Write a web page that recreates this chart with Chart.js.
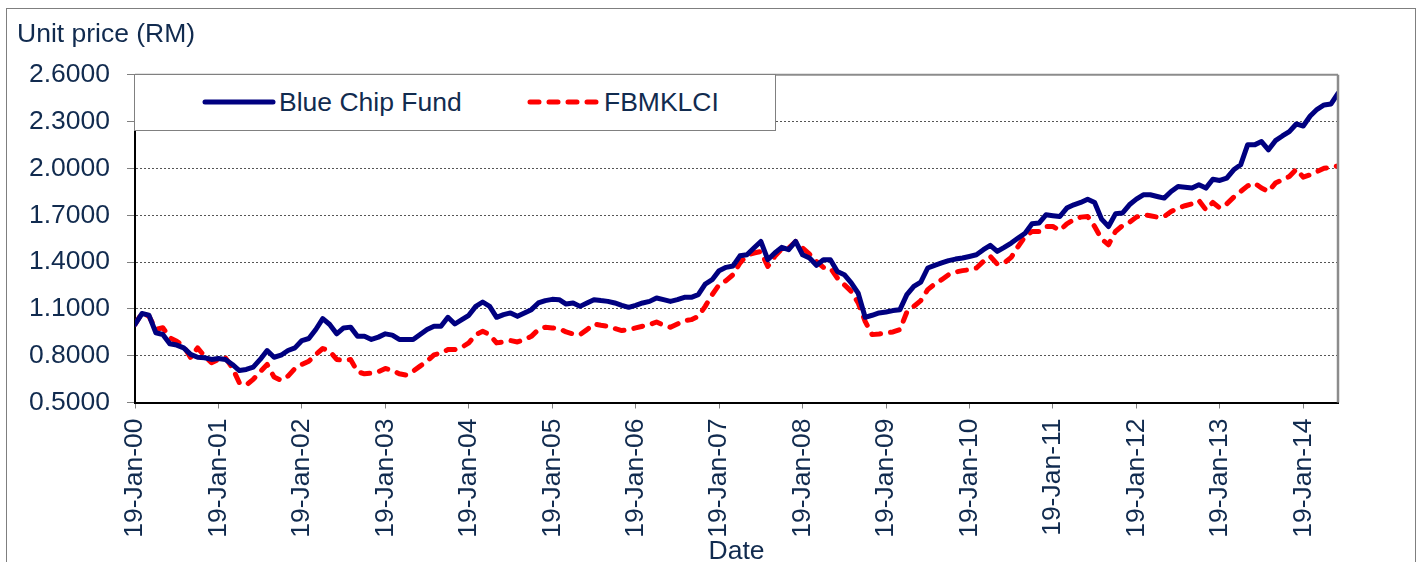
<!DOCTYPE html>
<html>
<head>
<meta charset="utf-8">
<script src="https://cdn.jsdelivr.net/npm/chart.js@4.4.0/dist/chart.umd.min.js"></script>
<style>
  body { margin: 0; background: #fff; font-family: "Liberation Sans", Arial, sans-serif; }
  #wrap { position: relative; width: 1424px; height: 562px; overflow: hidden; }
  #frame { position: absolute; left: 6px; top: 8px; width: 1410px; height: 600px; border: 1px solid #7f7f7f; box-sizing: border-box; }
  #myChart { position: absolute; left: 0; top: 0; }
  #legend { position: absolute; left: 134px; top: 74px; width: 642px; height: 57px; background: #fff; border: 1px solid #808080; box-sizing: border-box; z-index: 2; }
  #legend .item { position: absolute; top: 0; height: 55px; }
  #legend svg { position: absolute; top: 0; left: 0; }
  #legend span { position: absolute; top: 14px; font-size: 26.5px; line-height: 26px; color: #112b4f; white-space: nowrap; }
</style>
</head>
<body>
<div id="wrap">
  <div id="frame"></div>
  <canvas id="myChart" width="1424" height="562"></canvas>
  <div id="legend"></div>
</div>
<script>
// x ticks every January
const xTickLabels = ['19-Jan-00', '19-Jan-01', '19-Jan-02', '19-Jan-03', '19-Jan-04', '19-Jan-05', '19-Jan-06',
    '19-Jan-07', '19-Jan-08', '19-Jan-09', '19-Jan-10', '19-Jan-11', '19-Jan-12', '19-Jan-13', '19-Jan-14'];

// monthly unit prices, Jan 2000 .. Jun 2014
const blueChipFund = [
    1.000, 1.070, 1.060, 0.947, 0.936, 0.876, 0.868, 0.850, 0.808, 0.790, 0.787, 0.776,
    0.782, 0.776, 0.744, 0.705, 0.712, 0.727, 0.776, 0.833, 0.790, 0.803, 0.833, 0.850,
    0.897, 0.910, 0.968, 1.038, 1.000, 0.940, 0.978, 0.983, 0.925, 0.925, 0.904, 0.919,
    0.940, 0.932, 0.904, 0.904, 0.904, 0.936, 0.968, 0.989, 0.989, 1.046, 1.003, 1.031,
    1.059, 1.116, 1.144, 1.116, 1.046, 1.063, 1.074, 1.052, 1.074, 1.095, 1.138, 1.153,
    1.161, 1.159, 1.131, 1.138, 1.116, 1.138, 1.159, 1.153, 1.148, 1.138, 1.123, 1.110,
    1.123, 1.138, 1.148, 1.170, 1.159, 1.148, 1.159, 1.174, 1.174, 1.191, 1.259, 1.287,
    1.345, 1.366, 1.375, 1.440, 1.447, 1.490, 1.532, 1.415, 1.458, 1.494, 1.479, 1.532,
    1.447, 1.426, 1.379, 1.415, 1.415, 1.340, 1.319, 1.266, 1.200, 1.046, 1.059, 1.074,
    1.080, 1.089, 1.095, 1.191, 1.244, 1.272, 1.362, 1.379, 1.394, 1.409, 1.419, 1.426,
    1.436, 1.447, 1.479, 1.507, 1.468, 1.494, 1.522, 1.554, 1.585, 1.645, 1.650, 1.703,
    1.697, 1.692, 1.746, 1.767, 1.782, 1.803, 1.782, 1.675, 1.628, 1.709, 1.714, 1.767,
    1.803, 1.831, 1.831, 1.820, 1.810, 1.852, 1.884, 1.880, 1.874, 1.895, 1.874, 1.931,
    1.923, 1.938, 1.991, 2.023, 2.151, 2.151, 2.172, 2.119, 2.178, 2.208, 2.236, 2.285,
    2.272, 2.336, 2.379, 2.407, 2.413, 2.481
];

const fbmklci = [
    1.000, 1.074, 1.053, 0.968, 0.979, 0.915, 0.893, 0.861, 0.787, 0.850, 0.797, 0.755,
    0.776, 0.787, 0.723, 0.627, 0.612, 0.648, 0.697, 0.744, 0.663, 0.642, 0.669, 0.718,
    0.744, 0.765, 0.808, 0.846, 0.829, 0.776, 0.770, 0.776, 0.697, 0.684, 0.688, 0.697,
    0.718, 0.706, 0.684, 0.676, 0.701, 0.733, 0.765, 0.805, 0.818, 0.839, 0.839, 0.854,
    0.882, 0.935, 0.956, 0.935, 0.882, 0.888, 0.897, 0.888, 0.903, 0.924, 0.967, 0.982,
    0.978, 0.974, 0.952, 0.939, 0.935, 0.967, 1.003, 0.995, 0.989, 0.974, 0.961, 0.967,
    0.978, 0.989, 0.999, 1.016, 0.995, 0.982, 1.003, 1.025, 1.031, 1.052, 1.116, 1.191,
    1.255, 1.281, 1.319, 1.394, 1.443, 1.458, 1.468, 1.372, 1.436, 1.485, 1.490, 1.532,
    1.490, 1.451, 1.404, 1.366, 1.362, 1.298, 1.255, 1.212, 1.138, 1.020, 0.935, 0.939,
    0.946, 0.952, 0.967, 1.080, 1.116, 1.153, 1.223, 1.259, 1.287, 1.319, 1.336, 1.345,
    1.351, 1.362, 1.404, 1.436, 1.387, 1.394, 1.430, 1.500, 1.564, 1.596, 1.596, 1.628,
    1.628, 1.603, 1.645, 1.671, 1.688, 1.692, 1.628, 1.547, 1.511, 1.596, 1.633, 1.654,
    1.688, 1.703, 1.697, 1.688, 1.692, 1.724, 1.746, 1.761, 1.773, 1.795, 1.735, 1.782,
    1.746, 1.773, 1.816, 1.852, 1.888, 1.906, 1.874, 1.852, 1.906, 1.927, 1.948, 1.995,
    1.944, 1.959, 1.980, 2.001, 2.008, 2.016
];

const months = blueChipFund.map((v, i) => i); // month index from Jan 2000

const textColor = '#112b4f';
const font = {family: '"Liberation Sans", Arial, sans-serif', size: 26.5};

const datasets = [{
    label: 'Blue Chip Fund',
    data: blueChipFund,
    borderColor: '#000080',
    borderWidth: 5,
    pointRadius: 0,
    borderJoinStyle: 'round',
    borderCapStyle: 'round',
    tension: 0
}, {
    label: 'FBMKLCI',
    data: fbmklci,
    borderColor: '#ff0000',
    borderWidth: 5,
    borderDash: [9, 10],
    pointRadius: 0,
    borderJoinStyle: 'round',
    borderCapStyle: 'round',
    tension: 0
}];

// top + right edge of the plot
const plotFrame = {
    id: 'plotFrame',
    afterDatasetsDraw(chart) {
        const {ctx, chartArea: a} = chart;
        ctx.save();
        ctx.strokeStyle = '#8c8c8c';
        ctx.lineWidth = 2;
        ctx.beginPath();
        ctx.moveTo(a.left, a.top);
        ctx.lineTo(a.right, a.top);
        ctx.stroke();
        ctx.lineWidth = 2.5;
        ctx.beginPath();
        ctx.moveTo(a.right, a.top);
        ctx.lineTo(a.right, a.bottom);
        ctx.stroke();
        ctx.restore();
    }
};

const config = {
    type: 'line',
    data: {labels: months, datasets: datasets},
    options: {
        responsive: false,
        animation: false,
        layout: {padding: {left: 17, right: 86, top: 0, bottom: 0}},
        plugins: {
            legend: {display: false},
            tooltip: {enabled: false},
            title: {
                display: true,
                text: 'Unit price (RM)',
                align: 'start',
                color: textColor,
                font: Object.assign({}, font, {weight: 'normal'}),
                padding: {top: 19, bottom: 24}
            }
        },
        scales: {
            x: {
                type: 'linear',
                min: 0,
                max: 173,
                afterFit: s => { s.height = 159.5; },
                ticks: {
                    stepSize: 12,
                    includeBounds: false,
                    autoSkip: false,
                    minRotation: 90,
                    maxRotation: 90,
                    padding: 10,
                    color: textColor,
                    font: font,
                    callback: v => (v % 12 === 0 ? xTickLabels[v / 12] : '')
                },
                grid: {drawOnChartArea: false, tickLength: 6, tickColor: '#808080'},
                border: {color: '#000', width: 2},
                title: {display: true, text: 'Date', color: textColor, font: font, padding: {top: 0, bottom: -6}}
            },
            y: {
                min: 0.5,
                max: 2.6,
                afterFit: s => { s.width = 118; },
                ticks: {
                    stepSize: 0.3,
                    padding: 17,
                    color: textColor,
                    font: font,
                    callback: v => v.toFixed(4)
                },
                grid: {
                    color: c => (c.index === 0 || c.tick.value > 2.55 ? 'rgba(0,0,0,0)' : '#555'),
                    tickColor: '#808080',
                    tickLength: 8,
                    tickBorderDash: []
                },
                border: {color: '#000', width: 2, dash: [2, 2]}
            }
        }
    },
    plugins: [plotFrame]
};

const myChart = new Chart(document.getElementById('myChart'), config);

// legend box drawn over the top-left of the plot
const legendEl = document.getElementById('legend');
const legendPos = [{line: 67, text: 144}, {line: 392, text: 469}];
datasets.forEach((ds, i) => {
    const p = legendPos[i];
    const dash = ds.borderDash ? ` stroke-dasharray="${ds.borderDash.join(' ')}"` : '';
    const item = document.createElement('div');
    item.className = 'item';
    item.style.left = p.line + 'px';
    item.innerHTML =
        `<svg width="80" height="55"><line x1="3" y1="27" x2="71" y2="27" stroke="${ds.borderColor}" stroke-width="5" stroke-linecap="round"${dash}/></svg>` +
        `<span style="left:${p.text - p.line}px">${ds.label}</span>`;
    legendEl.appendChild(item);
});
</script>
</body>
</html>
